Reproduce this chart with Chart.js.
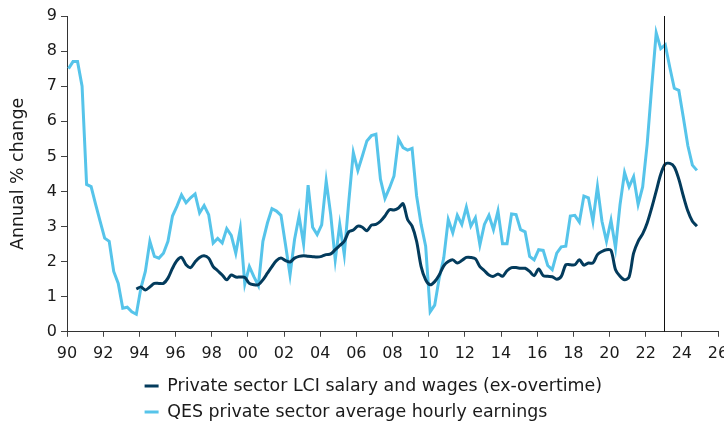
<!DOCTYPE html>
<html>
<head>
<meta charset="utf-8">
<script src="https://cdn.jsdelivr.net/npm/chart.js@4.4.1/dist/chart.umd.min.js"></script>
<style>
  html, body { margin: 0; padding: 0; background: #fff; overflow: hidden; }
</style>
</head>
<body>
<canvas id="wages" width="724" height="423"></canvas>
<script>
// quarterly series, annual % change
const seriesNames = [
    'Private sector LCI salary and wages (ex-overtime)',
    'QES private sector average hourly earnings'
];

const lciStart = [1993, 4];   // year, quarter
const lciValues = [
    1.22,
    1.28, 1.19, 1.28, 1.38,
    1.38, 1.38, 1.53, 1.81,
    2.03, 2.12, 1.91, 1.83,
    1.99, 2.12, 2.17, 2.10,
    1.86, 1.74, 1.62, 1.48,
    1.62, 1.56, 1.56, 1.55,
    1.38, 1.34, 1.34, 1.48,
    1.67, 1.86, 2.03, 2.10,
    2.03, 1.99, 2.10, 2.15,
    2.17, 2.15, 2.14, 2.13,
    2.15, 2.20, 2.22, 2.34,
    2.46, 2.58, 2.85, 2.90,
    3.01, 2.98, 2.88, 3.04,
    3.06, 3.15, 3.30, 3.48,
    3.47, 3.53, 3.65, 3.20,
    3.01, 2.58, 1.86, 1.48,
    1.34, 1.43, 1.62, 1.88,
    2.00, 2.05, 1.96, 2.03,
    2.12, 2.12, 2.08, 1.86,
    1.74, 1.62, 1.58, 1.65,
    1.58, 1.74, 1.83, 1.83,
    1.81, 1.81, 1.72, 1.60,
    1.79, 1.60, 1.58, 1.57,
    1.50, 1.58, 1.91, 1.91,
    1.91, 2.05, 1.90, 1.96,
    1.96, 2.20, 2.29, 2.34,
    2.32, 1.77, 1.58, 1.48,
    1.56, 2.24, 2.58, 2.79,
    3.10, 3.53, 4.01, 4.49,
    4.78, 4.80, 4.70, 4.35,
    3.87, 3.44, 3.15, 3.01
];

const qesStart = [1990, 1];
const qesValues = [
    7.50, 7.70, 7.70, 7.00,
    4.20, 4.14, 3.63, 3.15,
    2.67, 2.58, 1.72, 1.38,
    0.67, 0.70, 0.57, 0.50,
    1.24, 1.72, 2.58, 2.15,
    2.10, 2.24, 2.58, 3.30,
    3.58, 3.90, 3.68, 3.82,
    3.93, 3.39, 3.60, 3.34,
    2.53, 2.66, 2.53, 2.94,
    2.75, 2.24, 2.94, 1.36,
    1.86, 1.57, 1.32, 2.58,
    3.10, 3.51, 3.44, 3.32,
    2.48, 1.62, 2.63, 3.30,
    2.50, 4.18, 2.98, 2.77,
    3.05, 4.30, 3.34, 2.05,
    3.06, 2.20, 3.72, 5.11,
    4.60, 5.01, 5.44, 5.59,
    5.63, 4.35, 3.80, 4.10,
    4.44, 5.49, 5.25, 5.18,
    5.23, 3.87, 3.06, 2.44,
    0.57, 0.76, 1.53, 2.10,
    3.20, 2.82, 3.32, 3.06,
    3.55, 3.01, 3.25, 2.48,
    3.06, 3.32, 2.91, 3.44,
    2.51, 2.51, 3.36, 3.34,
    2.91, 2.85, 2.15, 2.05,
    2.34, 2.32, 1.89, 1.77,
    2.24, 2.42, 2.44, 3.30,
    3.32, 3.13, 3.87, 3.82,
    3.15, 4.14, 3.15, 2.58,
    3.18, 2.39, 3.63, 4.54,
    4.13, 4.42, 3.63, 4.13,
    5.35, 6.97, 8.52, 8.07,
    8.18, 7.54, 6.94, 6.88,
    6.11, 5.30, 4.75, 4.60
];

const xRange = [1990, 2026];
const yRange = [0, 9];
const markerYear = 2023;

// quarter -> mid-quarter month position on a year axis
function toPoints(start, values) {
    return values.map((v, i) => {
        const q = (start[1] - 1) + i;
        const year = start[0] + Math.floor(q / 4);
        const month = (q % 4) * 3 + 2;
        return { x: year + (month - 1) / 12, y: v };
    });
}

const tickFont = { family: 'DejaVu Sans', size: 16 };
const textFont = { family: 'DejaVu Sans', size: 17.4 };
const ink = '#1a1a1a';

const markerLine = {
    id: 'markerLine',
    afterDatasetsDraw(chart) {
        const x = chart.scales.x.getPixelForValue(markerYear);
        const { top, bottom } = chart.chartArea;
        const ctx = chart.ctx;
        ctx.save();
        ctx.strokeStyle = '#111';
        ctx.lineWidth = 1;
        ctx.beginPath();
        ctx.moveTo(Math.round(x) + 0.5, top);
        ctx.lineTo(Math.round(x) + 0.5, bottom);
        ctx.stroke();
        ctx.restore();
    }
};

// legend sits left-aligned under the plot
const legendPlace = {
    id: 'legendPlace',
    afterLayout(chart) {
        const lg = chart.legend;
        lg.left = 136;
        lg.top = chart.chartArea.bottom + 37;
        lg.bottom = lg.top + lg.height;
    }
};

new Chart(document.getElementById('wages'), {
    type: 'line',
    data: {
        datasets: [
            {
                label: seriesNames[0],
                data: toPoints(lciStart, lciValues),
                borderColor: '#033b5c',
                backgroundColor: '#033b5c',
                borderWidth: 3,
                pointRadius: 0,
                tension: 0.3
            },
            {
                label: seriesNames[1],
                data: toPoints(qesStart, qesValues),
                borderColor: '#56c4ea',
                backgroundColor: '#56c4ea',
                borderWidth: 3,
                pointRadius: 0,
                tension: 0
            }
        ]
    },
    options: {
        responsive: false,
        animation: false,
        layout: { padding: { left: 0, right: 6, top: 16, bottom: 0 } },
        scales: {
            x: {
                type: 'linear',
                min: xRange[0],
                max: xRange[1],
                ticks: {
                    stepSize: 2,
                    autoSkip: false,
                    maxRotation: 0,
                    font: tickFont,
                    color: ink,
                    padding: 7,
                    callback: v => String(v).slice(2)
                },
                grid: { drawOnChartArea: false, drawTicks: true, tickLength: 5, color: '#444' },
                border: { color: '#333', width: 1 },
                afterFit: s => { s.paddingLeft = 0; s.paddingRight = 0; s.height = s.height - 9; }
            },
            y: {
                min: yRange[0],
                max: yRange[1],
                ticks: { stepSize: 1, font: tickFont, color: ink, padding: 4 },
                grid: { drawOnChartArea: false, drawTicks: true, tickLength: 6, color: '#444' },
                border: { color: '#333', width: 1 },
                title: {
                    display: true,
                    text: 'Annual % change',
                    font: textFont,
                    color: ink,
                    padding: { top: 8, bottom: 0 }
                },
                afterFit: s => { s.width = 67; s.paddingTop = 0; s.paddingBottom = 0; }
            }
        },
        plugins: {
            legend: {
                position: 'bottom',
                align: 'start',
                labels: {
                    usePointStyle: true,
                    pointStyle: 'line',
                    pointStyleWidth: 14,
                    font: textFont,
                    color: ink,
                    padding: 8.6
                }
            },
            tooltip: { enabled: false }
        }
    },
    plugins: [markerLine, legendPlace]
});
</script>
</body>
</html>
